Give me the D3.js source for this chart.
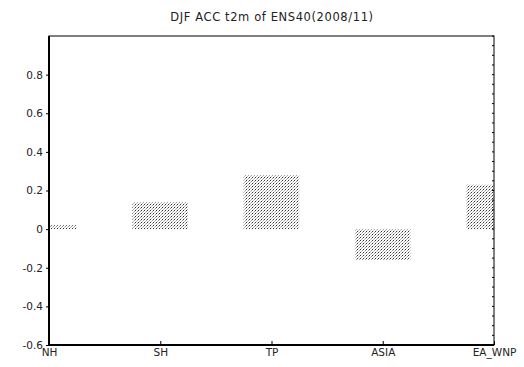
<!DOCTYPE html>
<html>
<head>
<meta charset="utf-8">
<script src="https://cdn.jsdelivr.net/npm/d3@7"></script>
<style>
  body { margin: 0; background: #fff; }
  text { font-family: 'DejaVu Sans', sans-serif; fill: #222; }
</style>
</head>
<body>
<script>
'use strict';

const regions = ['NH', 'SH', 'TP', 'ASIA', 'EA_WNP'];
const acc     = [0.02, 0.14, 0.28, -0.16, 0.23];
const yTicks  = [-0.6, -0.4, -0.2, 0, 0.2, 0.4, 0.6, 0.8];

const DIM = {
	width : 524,
	height: 367,
	left  : 49,
	right : 494,
	top   : 36,
	bottom: 345
};

let svg = d3.select('body').append('svg')
	.attr('width', DIM.width)
	.attr('height', DIM.height);

// stipple fill like the grads pattern
let pat = svg.append('defs').append('pattern')
	.attr('id', 'stipple')
	.attr('patternUnits', 'userSpaceOnUse')
	.attr('width', 3).attr('height', 3);
pat.append('rect').attr('x', 0).attr('y', 0).attr('width', 1).attr('height', 1).attr('fill', '#333');
pat.append('rect').attr('x', 2).attr('y', 1).attr('width', 1).attr('height', 1).attr('fill', '#999');
pat.append('rect').attr('x', 1).attr('y', 2).attr('width', 1).attr('height', 1).attr('fill', '#bbb');

svg.select('defs').append('clipPath').attr('id', 'plotclip')
	.append('rect')
	.attr('x', DIM.left).attr('y', DIM.top)
	.attr('width', DIM.right - DIM.left).attr('height', DIM.bottom - DIM.top);

let xScale = d3.scalePoint()
	.domain(regions)
	.range([DIM.left, DIM.right])
	.padding(0);
let yScale = d3.scaleLinear()
	.domain([-0.6, 1.0])
	.range([DIM.bottom, DIM.top]);

let barW = xScale.step() / 2;

svg.append('g')
	.attr('clip-path', 'url(#plotclip)')
	.selectAll('rect')
	.data(regions)
	.enter()
	.append('rect')
	.attr('x', (d) => xScale(d) - barW / 2)
	.attr('width', barW)
	.attr('y', (d, i) => yScale(Math.max(0, acc[i])))
	.attr('height', (d, i) => Math.abs(yScale(acc[i]) - yScale(0)))
	.attr('fill', 'url(#stipple)');

// axes
let yAxis = d3.axisLeft(yScale).tickValues(yTicks).tickSize(3).tickPadding(3)
	.tickFormat((d) => d === 0 ? '0' : d3.format('.1f')(d).replace('\u2212', '-'));
let yGroup = svg.append('g')
	.attr('transform', 'translate(' + DIM.left + ',0)')
	.call(yAxis);
yGroup.select('.domain').remove();
yGroup.selectAll('text').style('font-size', '10.5px');

let xAxis = d3.axisBottom(xScale).tickSize(-4).tickPadding(4);
let xGroup = svg.append('g')
	.attr('transform', 'translate(0,' + DIM.bottom + ')')
	.call(xAxis);
xGroup.select('.domain').remove();
xGroup.selectAll('text').style('font-size', '10.5px');

// right side minor ticks
svg.append('g')
	.selectAll('line')
	.data(d3.range(-0.6, 1.0001, 0.05))
	.enter()
	.append('line')
	.attr('x1', DIM.right).attr('x2', DIM.right - 2)
	.attr('y1', (d) => yScale(d)).attr('y2', (d) => yScale(d))
	.attr('stroke', '#000');

// frame
svg.append('rect')
	.attr('x', DIM.left).attr('y', DIM.top)
	.attr('width', DIM.right - DIM.left).attr('height', DIM.bottom - DIM.top)
	.attr('fill', 'none')
	.attr('stroke', '#000')
	.attr('stroke-width', 1);
svg.append('line')
	.attr('x1', DIM.left).attr('x2', DIM.left)
	.attr('y1', DIM.top).attr('y2', DIM.bottom)
	.attr('stroke', '#000').attr('stroke-width', 2);
svg.append('line')
	.attr('x1', DIM.left).attr('x2', DIM.right)
	.attr('y1', DIM.bottom).attr('y2', DIM.bottom)
	.attr('stroke', '#000').attr('stroke-width', 2);

svg.append('text')
	.attr('x', 272)
	.attr('y', 21)
	.attr('text-anchor', 'middle')
	.style('font-size', '11.5px')
	.style('letter-spacing', '0.6px')
	.text('DJF ACC t2m of ENS40(2008/11)');
</script>
</body>
</html>
